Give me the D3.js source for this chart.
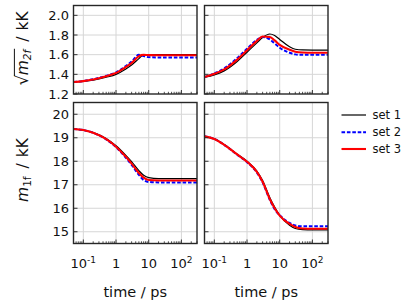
<!DOCTYPE html>
<html><head><meta charset="utf-8">
<script src="https://cdn.jsdelivr.net/npm/d3@7"></script>
<style>html,body{margin:0;padding:0;background:#fff;}svg{display:block;font-family:"DejaVu Sans",sans-serif;}</style>
</head><body>
<svg id="c" width="407" height="306"></svg>
<script>
// ---- data ----
const times = [0.05,0.1,0.2,0.5,1,2,3,5,7,10,20,30,50,100,300];
const seriesNames = ["set 1","set 2","set 3"];
const xTicks = [0.1,1,10,100];
const xTickLabels = [["10","-1"],["1",""],["10",""],["10","2"]];
const topTicks = [1.2,1.4,1.6,1.8,2.0];
const topTickLabels = ["1.2","1.4","1.6","1.8","2.0"];
const botTicks = [15,16,17,18,19,20];
const botTickLabels = ["15","16","17","18","19","20"];
// top-left: sqrt(m2f)
const tlSet1 = [1.32,1.328,1.34,1.37,1.40,1.455,1.495,1.56,1.598,1.6,1.6,1.6,1.6,1.6,1.6];
const tlSet2 = [1.322,1.332,1.35,1.385,1.42,1.485,1.53,1.598,1.585,1.575,1.572,1.572,1.572,1.572,1.572];
const tlSet3 = [1.322,1.331,1.347,1.38,1.415,1.475,1.515,1.585,1.598,1.595,1.594,1.594,1.594,1.594,1.594];
// top-right
const trSet1 = [1.37,1.395,1.435,1.53,1.625,1.72,1.775,1.81,1.795,1.755,1.68,1.655,1.648,1.647,1.647];
const trSet2 = [1.372,1.41,1.46,1.565,1.66,1.75,1.78,1.755,1.715,1.67,1.62,1.603,1.598,1.598,1.598];
const trSet3 = [1.372,1.405,1.45,1.55,1.645,1.74,1.785,1.78,1.745,1.70,1.65,1.63,1.622,1.62,1.62];
// bottom-left: m1f
const blSet1 = [19.37,19.33,19.22,18.97,18.66,18.25,17.98,17.6,17.4,17.3,17.26,17.26,17.26,17.26,17.26];
const blSet2 = [19.37,19.33,19.21,18.93,18.6,18.15,17.85,17.42,17.2,17.12,17.1,17.1,17.1,17.1,17.1];
const blSet3 = [19.37,19.33,19.21,18.94,18.62,18.19,17.9,17.5,17.3,17.2,17.18,17.18,17.18,17.18,17.18];
// bottom-right
const brSet1 = [19.06,18.95,18.71,18.3,18.0,17.58,17.18,16.45,16.05,15.7,15.28,15.14,15.09,15.08,15.08];
const brSet2 = [19.06,18.95,18.7,18.28,17.96,17.52,17.1,16.35,15.96,15.7,15.38,15.27,15.23,15.23,15.23];
const brSet3 = [19.06,18.95,18.7,18.29,17.98,17.55,17.13,16.38,16.0,15.69,15.33,15.2,15.14,15.13,15.13];

// ---- styles ----
const styles = [
  {color:"#000000", width:1.2, dash:null},
  {color:"#0000ff", width:2.0, dash:"3.6,1.8"},
  {color:"#ff0000", width:2.1, dash:null}
];

const svg = d3.select("#c");
const xRanges = {L:[73.5,197], R:[204.5,328]};
const yRanges = {T:[94,5.5], B:[243.5,102.5]};
const xDomain = [0.05,300];
const topDomain = [1.2,2.1];
const botDomain = [14.5,20.5];

const panels = [
  {col:"L",row:"T",data:[tlSet1,tlSet2,tlSet3],dom:topDomain,ticks:topTicks,labels:topTickLabels,showY:true,showX:false},
  {col:"R",row:"T",data:[trSet1,trSet2,trSet3],dom:topDomain,ticks:topTicks,labels:topTickLabels,showY:false,showX:false},
  {col:"L",row:"B",data:[blSet1,blSet2,blSet3],dom:botDomain,ticks:botTicks,labels:botTickLabels,showY:true,showX:true},
  {col:"R",row:"B",data:[brSet1,brSet2,brSet3],dom:botDomain,ticks:botTicks,labels:botTickLabels,showY:false,showX:true}
];

const minorTicks = [];
[0.01,0.1,1,10,100].forEach(d=>{for(let k=2;k<=9;k++){const v=d*k; if(v>=xDomain[0]&&v<=xDomain[1]) minorTicks.push(v);} });

panels.forEach((p,i)=>{
  const x = d3.scaleLog().domain(xDomain).range(xRanges[p.col]);
  const y = d3.scaleLinear().domain(p.dom).range(yRanges[p.row]);
  const g = svg.append("g");
  const [x0,x1] = x.range(); const [y0,y1] = y.range();
  // grid
  g.selectAll(null).data(xTicks).enter().append("line")
    .attr("x1",d=>x(d)).attr("x2",d=>x(d)).attr("y1",y0).attr("y2",y1)
    .attr("stroke","#d6d6d6").attr("stroke-width",1);
  g.selectAll(null).data(p.ticks.filter(t=>t>p.dom[0]&&t<p.dom[1])).enter().append("line")
    .attr("x1",x0).attr("x2",x1).attr("y1",d=>y(d)).attr("y2",d=>y(d))
    .attr("stroke","#d6d6d6").attr("stroke-width",1);
  // clip
  const cid = "clip"+i;
  svg.append("clipPath").attr("id",cid).append("rect")
    .attr("x",x0).attr("y",y1).attr("width",x1-x0).attr("height",y0-y1);
  const line = d3.line().x((d,j)=>x(times[j])).y(d=>y(d)).curve(d3.curveMonotoneX);
  const cg = g.append("g").attr("clip-path",`url(#${cid})`);
  p.data.forEach((s,k)=>{
    const st = styles[k];
    cg.append("path").attr("d",line(s)).attr("fill","none")
      .attr("stroke",st.color).attr("stroke-width",st.width)
      .attr("stroke-dasharray",st.dash);
  });
  // ticks (inward)
  g.selectAll(null).data(xTicks).enter().append("line")
    .attr("x1",d=>x(d)).attr("x2",d=>x(d)).attr("y1",y0).attr("y2",y0-4)
    .attr("stroke","#222").attr("stroke-width",0.9);
  g.selectAll(null).data(minorTicks).enter().append("line")
    .attr("x1",d=>x(d)).attr("x2",d=>x(d)).attr("y1",y0).attr("y2",y0-2.2)
    .attr("stroke","#222").attr("stroke-width",0.8);
  g.selectAll(null).data(p.ticks).enter().append("line")
    .attr("x1",x0).attr("x2",x0+4).attr("y1",d=>y(d)).attr("y2",d=>y(d))
    .attr("stroke","#222").attr("stroke-width",0.9);
  // frame
  g.append("rect").attr("x",x0).attr("y",y1).attr("width",x1-x0).attr("height",y0-y1)
    .attr("fill","none").attr("stroke","#262626").attr("stroke-width",1.4);
  if(p.showY){
    g.selectAll(null).data(p.ticks).enter().append("text")
      .attr("x",x0-4.5).attr("y",d=>y(d)+4.7).attr("text-anchor","end")
      .attr("font-size",13).attr("fill","#111").text((d,j)=>p.labels[j]);
  }
  if(p.showX){
    xTicks.forEach((t,j)=>{
      const lab = xTickLabels[j];
      const tx = g.append("text").attr("x",x(t)).attr("y",268).attr("text-anchor","middle")
        .attr("font-size",13).attr("fill","#111");
      tx.append("tspan").text(lab[0]);
      if(lab[1]) tx.append("tspan").attr("font-size",9).attr("dy",-5.5).text(lab[1]);
    });
    g.append("text").attr("x",(x0+x1)/2).attr("y",296.5).attr("text-anchor","middle")
      .attr("font-size",14.5).attr("fill","#111").text("time / ps");
  }
});

// y labels
function yLabel(cy, sub, sqrt, subItalic){
  const fs = 15.5;
  const g = svg.append("g").attr("transform",`translate(28,${cy}) rotate(-90)`);
  const t = g.append("text").attr("text-anchor","middle").attr("font-size",fs).attr("fill","#111");
  if(sqrt) t.append("tspan").attr("font-size",17).text("\u221A");
  t.append("tspan").attr("font-style","italic").attr("dx",sqrt?-0.5:0).text("m");
  t.append("tspan").attr("font-size",10.5).attr("font-style",subItalic?"italic":"normal").attr("dy",3).text(sub);
  t.append("tspan").attr("dy",-3).attr("dx",8).text("/");
  t.append("tspan").attr("dx",6).text("kK");
  if(sqrt){
    const node = t.node();
    const n1 = 1 + 1 + sub.length - 1; // last sub char
    const sx = node.getStartPositionOfChar(0).x + node.getExtentOfChar(0).width - 1.2;
    const ex = node.getEndPositionOfChar(n1).x + 1;
    g.append("line").attr("x1",sx).attr("x2",ex).attr("y1",-13.6).attr("y2",-13.6)
      .attr("stroke","#111").attr("stroke-width",1);
  }
}
yLabel(48.5, "2f", true, true);
yLabel(170, "1f", false, false);

// legend
const leg = svg.append("g");
seriesNames.forEach((n,k)=>{
  const yy = [115,132.3,149][k];
  const st = styles[k];
  leg.append("line").attr("x1",341.5).attr("x2",366).attr("y1",yy).attr("y2",yy)
    .attr("stroke",st.color).attr("stroke-width",st.width).attr("stroke-dasharray",st.dash);
  leg.append("text").attr("x",372.5).attr("y",yy+4).attr("font-size",11.5).attr("fill","#111").text(n);
});
</script>
</body></html>
